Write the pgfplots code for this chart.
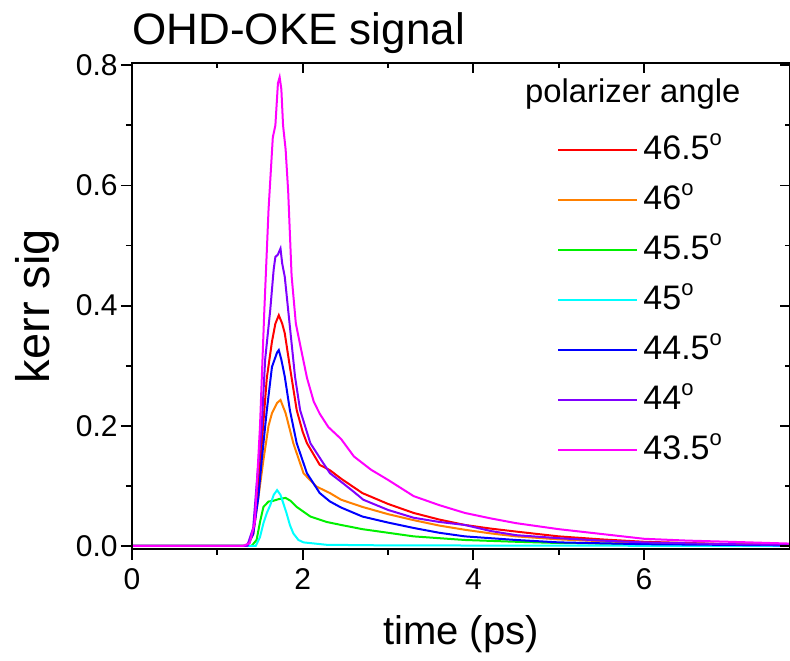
\documentclass[border=0pt]{standalone}
\usepackage{fontspec}
\setmainfont{Liberation Sans}
\usepackage{pgfplots}
\pgfplotsset{compat=1.18}

\definecolor{cRed}{RGB}{255,0,0}
\definecolor{cOrange}{RGB}{255,128,0}
\definecolor{cGreen}{RGB}{0,240,0}
\definecolor{cCyan}{RGB}{0,255,255}
\definecolor{cBlue}{RGB}{0,0,255}
\definecolor{cPurple}{RGB}{128,0,255}
\definecolor{cMagenta}{RGB}{255,0,255}
\newcommand{\degsym}{\raisebox{7pt}{\fontsize{11}{13}\selectfont o}}
\newcommand{\tk}[1]{{\fontsize{15}{17}\selectfont #1}}

\begin{document}
\begin{tikzpicture}
% common frame: 1 px of the reference = 0.5 pt
\pgfplotsset{
  okeframe/.style={
    scale only axis, width=329pt, height=243pt,
    xmin=0, xmax=7.71, ymin=-0.005, ymax=0.8037,
    xtick={0,2,4,6}, ytick={0,0.2,0.4,0.6,0.8},
    minor x tick num=1, minor y tick num=1,
    axis line style={line width=1pt},
    major tick style={black, line width=0.9pt},
    minor tick style={black, line width=0.9pt},
    major tick length=5.5pt, minor tick length=3pt,
  },
}
\begin{axis}[
  okeframe,
  tick align=outside,
  xtick pos=left, ytick pos=left,
  xticklabels={\tk{0},\tk{2},\tk{4},\tk{6}},
  yticklabels={\tk{0.0},\tk{0.2},\tk{0.4},\tk{0.6},\tk{0.8}},
  xticklabel style={font=\fontsize{15}{17}\selectfont, inner sep=4pt},
  yticklabel style={font=\fontsize{15}{17}\selectfont, inner sep=1.5pt},
  xlabel={time (ps)}, ylabel={kerr sig},
  every axis x label/.style={at={(axis description cs:0.5,0)}, anchor=base, yshift=-48pt,
                             font=\fontsize{20}{24}\selectfont},
  every axis y label/.style={at={(axis description cs:-0.126,0.5)}, rotate=90, anchor=base,
                             font=\fontsize{23.5}{28}\selectfont},
  title={OHD-OKE signal},
  every axis title/.style={at={(axis description cs:0,1)}, anchor=base west, inner sep=0pt,
                           yshift=9pt, font=\fontsize{22}{26}\selectfont},
  legend style={at={(rel axis cs:0.646,0.852)}, anchor=north west, draw=none, fill=none,
                inner sep=0pt, row sep=10pt, column sep=2.5pt,
                font=\fontsize{17}{20}\selectfont,
                nodes={inner sep=0pt, text height=12pt, text depth=3pt}},
  legend cell align=left,
  legend image code/.code={\draw[#1, line width=1pt] (0pt,0pt) -- (39.5pt,0pt);},
  every axis plot/.append style={line width=1pt},
]
\addplot[cRed] table {
x y
0 0
1.35 0
1.42 0.02
1.48 0.10
1.52 0.17
1.58 0.28
1.64 0.34
1.68 0.37
1.72 0.384
1.76 0.37
1.79 0.354
1.85 0.298
1.93 0.226
2.00 0.19
2.05 0.171
2.20 0.135
2.32 0.126
2.45 0.112
2.70 0.088
3.00 0.070
3.30 0.055
3.60 0.044
3.90 0.035
4.20 0.029
4.50 0.024
5.00 0.016
5.50 0.011
6.00 0.007
6.50 0.005
7.00 0.003
7.71 0.002
};
\addlegendentry{46.5\degsym}

\addplot[cOrange] table {
x y
0 0
1.35 0
1.42 0.02
1.48 0.08
1.54 0.143
1.60 0.20
1.64 0.221
1.70 0.238
1.74 0.243
1.80 0.221
1.89 0.171
2.01 0.121
2.16 0.099
2.32 0.088
2.45 0.077
2.70 0.065
3.00 0.053
3.30 0.043
3.60 0.034
3.90 0.027
4.20 0.021
4.50 0.016
5.00 0.011
5.50 0.008
6.00 0.005
7.00 0.003
7.71 0.002
};
\addlegendentry{46\degsym}

\addplot[cGreen] table {
x y
0 0
1.40 0
1.46 0.01
1.50 0.04
1.54 0.065
1.60 0.074
1.65 0.075
1.72 0.078
1.80 0.080
1.86 0.075
1.93 0.065
2.00 0.058
2.09 0.049
2.28 0.040
2.45 0.035
2.70 0.028
3.00 0.022
3.30 0.016
3.60 0.013
3.90 0.010
4.50 0.007
5.00 0.005
6.00 0.003
7.71 0.001
};
\addlegendentry{45.5\degsym}

\addplot[cCyan] table {
x y
0 0
1.45 0
1.50 0.015
1.54 0.038
1.58 0.055
1.62 0.068
1.66 0.085
1.70 0.093
1.74 0.085
1.78 0.068
1.81 0.055
1.85 0.035
1.89 0.021
1.95 0.010
2.01 0.006
2.28 0.002
3.00 0.001
7.71 0
};
\addlegendentry{45\degsym}

\addplot[cBlue] table {
x y
0 0
1.35 0
1.42 0.02
1.48 0.08
1.52 0.143
1.58 0.226
1.64 0.298
1.70 0.322
1.72 0.326
1.75 0.31
1.79 0.282
1.85 0.226
1.93 0.171
2.05 0.121
2.20 0.088
2.32 0.074
2.45 0.064
2.70 0.049
3.00 0.039
3.30 0.030
3.60 0.022
3.90 0.016
4.50 0.010
5.00 0.006
6.00 0.003
7.71 0.001
};
\addlegendentry{44.5\degsym}

\addplot[cPurple] table {
x y
0 0
1.35 0
1.42 0.03
1.47 0.12
1.52 0.199
1.56 0.31
1.62 0.393
1.66 0.46
1.68 0.481
1.71 0.485
1.74 0.495
1.76 0.47
1.79 0.448
1.85 0.365
1.91 0.282
1.97 0.226
2.09 0.171
2.24 0.138
2.32 0.121
2.44 0.108
2.60 0.090
2.71 0.077
3.00 0.060
3.30 0.047
3.60 0.040
3.90 0.035
4.20 0.025
4.50 0.018
5.00 0.013
5.50 0.009
6.00 0.006
7.00 0.003
7.71 0.002
};
\addlegendentry{44\degsym}

\addplot[cMagenta] table {
x y
0 0
1.30 0
1.38 0.005
1.44 0.04
1.50 0.20
1.55 0.39
1.60 0.56
1.65 0.68
1.68 0.70
1.71 0.77
1.73 0.78
1.75 0.76
1.77 0.70
1.80 0.66
1.83 0.59
1.87 0.45
1.92 0.37
1.97 0.335
2.05 0.28
2.13 0.24
2.20 0.22
2.30 0.198
2.45 0.178
2.60 0.149
2.80 0.127
3.00 0.110
3.30 0.083
3.60 0.068
3.90 0.055
4.20 0.046
4.50 0.038
5.00 0.028
5.50 0.020
6.00 0.012
6.50 0.009
7.00 0.007
7.71 0.004
};
\addlegendentry{43.5\degsym}

\node[anchor=base west, inner sep=0pt, font=\fontsize{16.4}{19}\selectfont]
  at (rel axis cs:0.597,0.918) {polarizer angle};
\coordinate (bl) at (rel axis cs:0,0);
\coordinate (tr) at (rel axis cs:1,1);
\end{axis}
% second frame: inward ticks on the top and right sides
\begin{axis}[
  okeframe,
  tick align=inside,
  xtick pos=right, ytick pos=right,
  xticklabels={}, yticklabels={},
  major tick length=5pt, minor tick length=2.5pt,
]
\end{axis}
\pgfresetboundingbox
\path ([shift={(-66pt,-56pt)}]bl) rectangle ([shift={(0pt,31.5pt)}]tr);
\end{tikzpicture}
\end{document}
